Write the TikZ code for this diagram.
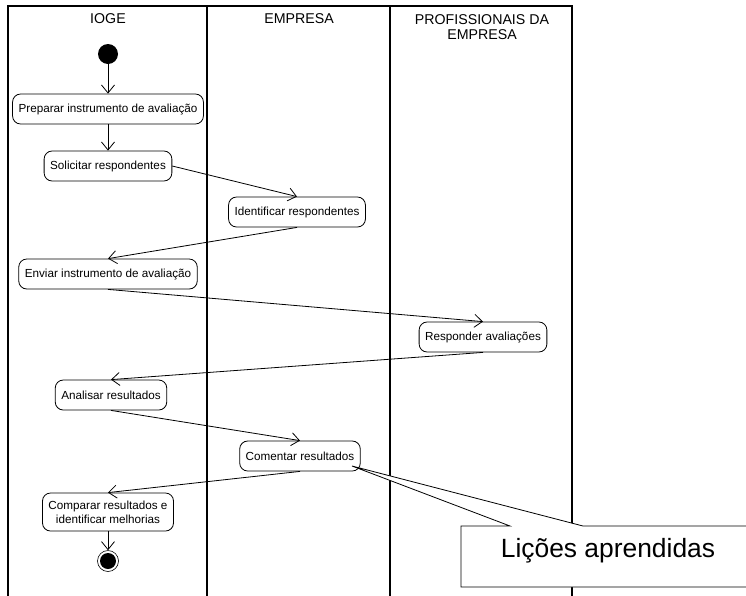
\documentclass[tikz,border=0pt]{standalone}
\usepackage{fontspec}
\setmainfont{Liberation Sans}
\usetikzlibrary{arrows.meta}

\tikzset{
  activity/.style={draw, line width=0.8pt, rounded corners=8pt, fill=white,
    minimum height=30pt, inner xsep=6pt, align=center,
    font=\fontsize{11.7}{14}\selectfont},
  flow/.style={line width=0.8pt, -{Straight Barb[length=8pt,width=13pt]}},
  lane/.style={line width=1.2pt},
  lanetitle/.style={align=center, font=\fontsize{14.2}{14.5}\selectfont}
}

\begin{document}
\begin{tikzpicture}[x=1pt,y=-1pt]

  \useasboundingbox (0,0) rectangle (746,595);

  % Draw swimlanes
  \draw[lane] (8,600) -- (8,6) -- (572,6) -- (572,600);
  \draw[lane] (207,6) -- (207,600);
  \draw[lane] (390,6) -- (390,600);

  % Lane titles
  \node[lanetitle] (ioge) at (108,19) {IOGE};
  \node[lanetitle] (empresa) at (299,19) {EMPRESA};
  \node[lanetitle] (prof) at (482,27) {PROFISSIONAIS DA\\EMPRESA};

  % Start and end
  \node[circle, fill=black, minimum size=20pt, inner sep=0pt] (start) at (108,54) {};
  \node[circle, draw, line width=0.6pt, minimum size=21pt, inner sep=0pt] (stop) at (108,561) {};
  \fill (stop.center) circle (8pt);

  % Activities
  \node[activity] (preparar) at (108,109) {Preparar instrumento de avaliação};
  \node[activity] (solicitar) at (108,166) {Solicitar respondentes};
  \node[activity] (identificar) at (297,212) {Identificar respondentes};
  \node[activity] (enviar) at (108,274) {Enviar instrumento de avaliação};
  \node[activity] (responder) at (483,337) {Responder avaliações};
  \node[activity] (analisar) at (111,395) {Analisar resultados};
  \node[activity] (comentar) at (300,456) {Comentar resultados};
  \node[activity, minimum height=38pt] (comparar) at (108,512) {Comparar resultados e\\identificar melhorias};

  % Flows
  \draw[flow] (start) -- (preparar);
  \draw[flow] (preparar) -- (solicitar);
  \draw[flow] (solicitar.east) -- (identificar.north);
  \draw[flow] (identificar.south) -- (enviar.north);
  \draw[flow] (enviar.south) -- (responder.north);
  \draw[flow] (responder.south) -- (analisar.north);
  \draw[flow] (analisar.south) -- (comentar.north);
  \draw[flow] (comentar.south) -- (comparar.north);
  \draw[flow] (comparar) -- (stop);

  % Callout
  \coordinate (tip) at (352,466);
  \draw[line width=0.8pt, fill=white] (760,587) -- (461,587) -- (461,526) -- (510,526)
    -- (tip) -- (583,526) -- (760,526);
  \node[font=\fontsize{26.4}{28}\selectfont] (licoes) at (608,551) {Lições aprendidas};

\end{tikzpicture}
\end{document}
